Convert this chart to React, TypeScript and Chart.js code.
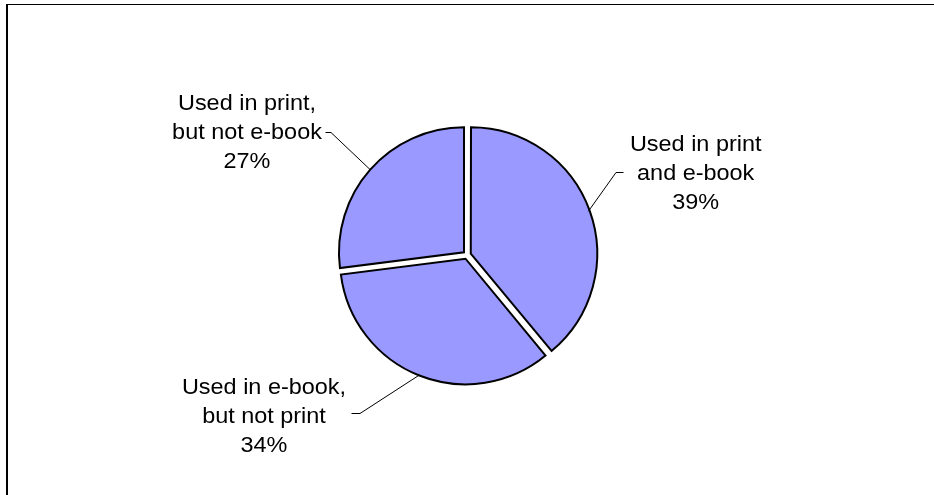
import { useEffect, useRef } from "react";
import { Chart, registerables } from "chart.js";

Chart.register(...registerables);

// ---- data ----
const categories = [
  "Used in print and e-book",
  "Used in e-book, but not print",
  "Used in print, but not e-book",
];
const labelLines = [
  ["Used in print", "and e-book"],
  ["Used in e-book,", "but not print"],
  ["Used in print,", "but not e-book"],
];
const values = [39, 34, 27];

// ---- style / layout ----
const SLICE_COLOR = "#9999FF";
const OFFSET = 16; // chart.js translates by offset/4
const RADIUS = 125;
const FONT_SIZE = 22;
const TEXT_SCALE_X = 1.065;
const LINE_GAP = 29;
const labelLayout = [
  { cx: 695.7, top: 151, elbow: [616, 172.5], end: [623.5, 172.5] },
  { cx: 264, top: 393.5, elbow: [360, 413.5], end: [351.5, 413.5] },
  { cx: 247, top: 109.5, elbow: [331, 132.5], end: [325.5, 132.5] },
];

const decorPlugin = {
  id: "pieDecor",
  beforeDraw(chart: any) {
    const ctx = chart.ctx;
    ctx.save();
    ctx.fillStyle = "#fff";
    ctx.fillRect(0, 0, chart.width, chart.height);
    ctx.fillStyle = "#000";
    ctx.fillRect(6, 4, chart.width - 6, 1);
    ctx.fillRect(6, 4, 2, chart.height - 4);
    ctx.restore();
  },
  afterDatasetsDraw(chart: any) {
    const meta = chart.getDatasetMeta(0);
    const ctx = chart.ctx;
    meta.data.forEach((el: any, i: number) => {
      const { x, y, startAngle, endAngle, outerRadius } = el.getProps(
        ["x", "y", "startAngle", "endAngle", "outerRadius"],
        true
      );
      const h = (startAngle + endAngle) / 2;
      const r = OFFSET / 4 + outerRadius;
      const ax = x + Math.cos(h) * r;
      const ay = y + Math.sin(h) * r;
      const L = labelLayout[i];
      ctx.save();
      ctx.strokeStyle = "#000";
      ctx.lineWidth = 1;
      ctx.beginPath();
      ctx.moveTo(ax, ay);
      ctx.lineTo(L.elbow[0], L.elbow[1]);
      ctx.lineTo(L.end[0], L.end[1]);
      ctx.stroke();

      const lines = [...labelLines[i], `${values[i]}%`];
      ctx.fillStyle = "#000";
      ctx.font = `${FONT_SIZE}px "Liberation Sans", Arial, sans-serif`;
      ctx.textAlign = "center";
      ctx.textBaseline = "alphabetic";
      lines.forEach((t, k) => {
        ctx.save();
        ctx.translate(L.cx, L.top + k * LINE_GAP);
        ctx.scale(TEXT_SCALE_X, 1);
        ctx.fillText(t, 0, 0);
        ctx.restore();
      });
      ctx.restore();
    });
  },
};

export default function App() {
  const ref = useRef<HTMLCanvasElement>(null);
  useEffect(() => {
    const chart = new Chart(ref.current as HTMLCanvasElement, {
      type: "pie",
      data: {
        labels: categories,
        datasets: [
          {
            data: values,
            backgroundColor: SLICE_COLOR,
            borderColor: "#000",
            borderWidth: 2,
            borderJoinStyle: "miter",
            offset: OFFSET,
            hoverOffset: 0,
            radius: RADIUS,
          } as any,
        ],
      },
      options: {
        responsive: false,
        animation: false,
        events: [],
        layout: { padding: { top: 15 } },
        plugins: {
          legend: { display: false },
          tooltip: { enabled: false },
        },
      },
      plugins: [decorPlugin],
    });
    return () => chart.destroy();
  }, []);
  return (
    <div
      style={{
        position: "absolute",
        left: 0,
        top: 0,
        width: 934,
        height: 495,
        background: "#fff",
      }}
    >
      <canvas ref={ref} width={934} height={495} style={{ display: "block" }} />
    </div>
  );
}
